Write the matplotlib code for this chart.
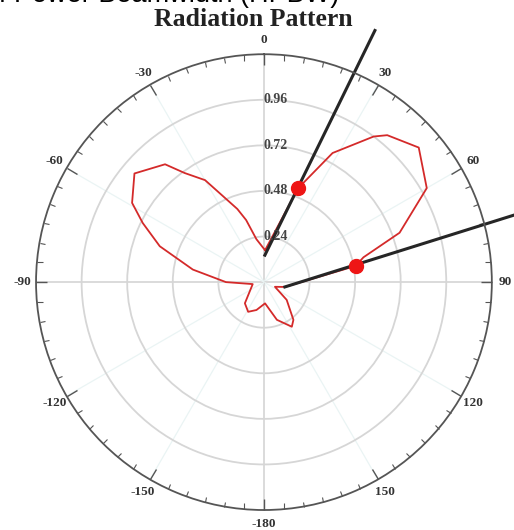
import numpy as np
import matplotlib.pyplot as plt

# Measured pattern (angle in degrees, normalised amplitude)
theta_deg = [2, -10, -16, -20, -30, -36, -40, -50, -59, -64, -71, -80, -90, -100,
             -138, -152, -165, 177, 161, 148, 142, 128, 113, 103,
             80, 76, 70, 60, 49, 40, 37, 28, 20, 2]
amplitude = [0.168, 0.23, 0.34, 0.41, 0.62, 0.71, 0.81, 0.89, 0.81, 0.71, 0.58, 0.38, 0.20, 0.06,
             0.15, 0.177, 0.152, 0.112, 0.21, 0.277, 0.252, 0.152, 0.063, 0.113,
             0.49, 0.54, 0.76, 0.99, 1.08, 1.01, 0.96, 0.77, 0.526, 0.168]

# Half power points and the beamwidth lines through them
hp_theta = [19.9, 80]
hp_r = [0.526, 0.49]
bw_line1_theta = [2, 23.8]
bw_line1_r = [0.142, 1.448]
bw_line2_theta = [103, 75]
bw_line2_r = [0.113, 1.362]

r_ticks = [0.24, 0.48, 0.72, 0.96]
angle_ticks = np.arange(0, 360, 30)
angle_labels = ['0', '30', '60', '90', '120', '150', '-180', '-150', '-120', '-90', '-60', '-30']

fig = plt.figure(figsize=(5.14, 5.30), dpi=100)
ax = fig.add_axes([0.070, 0.0377, 0.887, 0.860], projection='polar')
ax.set_theta_zero_location('N')
ax.set_theta_direction(-1)
ax.set_ylim(0, 1.2)

ax.set_xticks(np.deg2rad(angle_ticks))
ax.set_xticklabels(angle_labels, fontfamily='Liberation Serif', fontweight='bold',
                   fontsize=9.5, color='#333333')
ax.set_xticks(np.deg2rad(np.arange(0, 360, 5)), minor=True)
# ticks on the outer circle only, pointing into the plot
ax.tick_params(axis='x', which='both', tick1On=False, tick2On=True)
ax.tick_params(axis='x', which='major', direction='in', length=8, width=1.0, color='#555555', pad=3)
ax.tick_params(axis='x', which='minor', direction='in', length=4, width=0.8, color='#555555')

ax.set_yticks(r_ticks)
ax.set_yticklabels([])
ax.yaxis.grid(True, color='#d6d6d6', linewidth=1.3)
ax.xaxis.grid(True, which='major', color='#eaf4f4', linewidth=0.9)
ax.xaxis.grid(False, which='minor')
for i, gl in enumerate(ax.xaxis.get_gridlines()):
    if angle_ticks[i] % 90 == 0:
        gl.set_color('#d4d4d4')
        gl.set_linewidth(1.2)
ax.spines['polar'].set_color('#555555')
ax.spines['polar'].set_linewidth(1.3)

for r in r_ticks:
    ax.text(0, r, '%.2f' % r, ha='left', va='center', fontfamily='Liberation Serif',
            fontweight='bold', fontsize=10, color='#444444')

ax.plot(np.deg2rad(theta_deg), amplitude, color='#d42a2a', linewidth=1.3)
ax.plot(np.deg2rad(bw_line1_theta), bw_line1_r, color='#262626', linewidth=2.2, clip_on=False)
ax.plot(np.deg2rad(bw_line2_theta), bw_line2_r, color='#262626', linewidth=2.2, clip_on=False)
ax.plot(np.deg2rad(hp_theta), hp_r, 'o', color='#ee1515', markersize=10, linestyle='none')

fig.text(0.493, 1 - 26 / 530, 'Radiation Pattern', ha='center', va='baseline',
         fontfamily='Liberation Serif', fontweight='bold', fontsize=18.5, color='#222222')
fig.text(-42 / 514, 1 - 1.5 / 530, 'Half Power Beamwidth (HPBW)', ha='left', va='baseline',
         fontfamily='Liberation Sans', fontsize=19.5, color='black')

fig.savefig('out.png', dpi=100)
